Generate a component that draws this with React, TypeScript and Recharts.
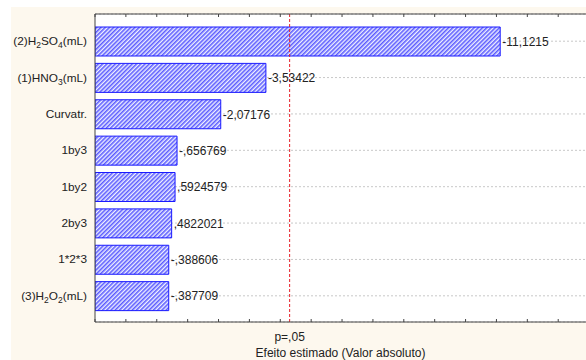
import { BarChart, Bar, XAxis, YAxis, CartesianGrid, ReferenceLine, LabelList } from "recharts";

// factors, in pareto order ("_n" marks a subscript)
const factors = [
  "(2)H_2SO_4(mL)",
  "(1)HNO_3(mL)",
  "Curvatr.",
  "1by3",
  "1by2",
  "2by3",
  "1*2*3",
  "(3)H_2O_2(mL)",
];

// estimated effects (signed t values)
const effects = [-11.1215, -3.53422, -2.07176, -0.656769, 0.5924579, 0.4822021, -0.388606, -0.387709];

// labels as printed next to the bars
const effectLabels = ["-11,1215", "-3,53422", "-2,07176", "-,656769", ",5924579", ",4822021", "-,388606", "-,387709"];

const xTicks = [-2, -1, 0, 1, 2, 3, 4, 5, 6, 7, 8, 9, 10, 11, 12, 13];
const AXIS_MIN = -2;
const AXIS_MAX = 13.9;
const P05 = 4.303; // t critical, p=.05

const FONT = "'Liberation Sans', Arial, sans-serif";
const TEXT = "#222";

const rows = factors.map((name, i) => ({
  name,
  range: [AXIS_MIN, Math.abs(effects[i])],
  label: effectLabels[i],
}));

// eslint-disable-next-line @typescript-eslint/no-explicit-any
const FactorTick = ({ x, y, payload }: any) => {
  const parts = String(payload.value).split(/_(\d)/);
  return (
    <text x={x} y={y + 4} textAnchor="end" fill={TEXT} fontSize={11.8} fontFamily={FONT}>
      {parts.map((p, i) =>
        i % 2 === 1 ? (
          <tspan key={i} fontSize={8.5} dy={3}>
            {p}
          </tspan>
        ) : (
          <tspan key={i} dy={i > 0 ? -3 : undefined}>
            {p}
          </tspan>
        )
      )}
    </text>
  );
};

const NoLabel = () => <g />;

export default function App() {
  return (
    <div style={{ position: "absolute", left: 0, top: 0, width: 586, height: 360, background: "#fff", overflow: "hidden" }}>
      <div style={{ position: "absolute", left: 11, top: 7, width: 575, height: 353, background: "#fdf8ee" }} />
      <div style={{ position: "absolute", left: 0, top: 0 }}>
        <BarChart
          width={586}
          height={360}
          data={rows}
          layout="vertical"
          margin={{ top: 14, right: 0, left: 0, bottom: 0 }}
          barSize={29}
        >
          <defs>
            <pattern id="hatch" width="3" height="3" patternUnits="userSpaceOnUse" patternTransform="rotate(45)">
              <rect width="3" height="3" fill="#eef0ff" />
              <line x1="0.8" y1="0" x2="0.8" y2="3" stroke="#5555ff" strokeWidth={1.5} />
            </pattern>
          </defs>
          <CartesianGrid vertical={false} fill="#fff" stroke="#c8c8c8" strokeDasharray="2 2" />
          <XAxis
            type="number"
            domain={[AXIS_MIN, AXIS_MAX]}
            ticks={xTicks}
            allowDataOverflow
            interval={0}
            height={38}
            tickLine={false}
            tick={NoLabel}
            stroke="#444"
            label={{ value: "Efeito estimado (Valor absoluto)", position: "insideBottom", offset: 3, fill: TEXT, fontSize: 12, fontFamily: FONT }}
          />
          {/* inward tick marks, bottom and top */}
          <XAxis
            xAxisId="ticksBottom"
            type="number"
            domain={[AXIS_MIN, AXIS_MAX]}
            ticks={xTicks}
            allowDataOverflow
            interval={0}
            height={10}
            mirror
            axisLine={false}
            tickSize={3}
            tick={NoLabel}
            stroke="#444"
          />
          <XAxis
            xAxisId="top"
            orientation="top"
            type="number"
            domain={[AXIS_MIN, AXIS_MAX]}
            ticks={xTicks}
            allowDataOverflow
            interval={0}
            height={1}
            mirror
            tickSize={3}
            tick={NoLabel}
            stroke="#444"
          />
          <YAxis
            type="category"
            dataKey="name"
            width={95}
            padding={{ top: 9, bottom: 8 }}
            tickLine={false}
            tick={<FactorTick />}
            interval={0}
            stroke="#444"
          />
          <ReferenceLine
            x={P05}
            stroke="#e8202a"
            strokeDasharray="3 2"
            label={{ value: "p=,05", position: "bottom", offset: 10, fill: TEXT, fontSize: 12, fontFamily: FONT }}
          />
          <Bar dataKey="range" fill="url(#hatch)" stroke="#1a1aff" strokeWidth={1} isAnimationActive={false}>
            <LabelList dataKey="label" position="right" offset={2} fill={TEXT} fontSize={12} fontFamily={FONT} />
          </Bar>
        </BarChart>
      </div>
    </div>
  );
}
